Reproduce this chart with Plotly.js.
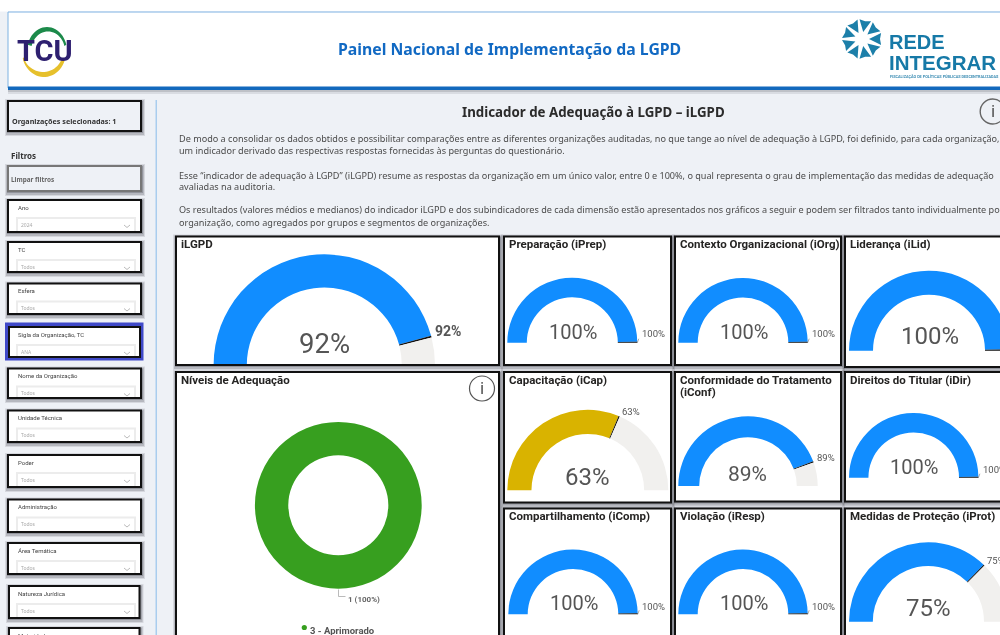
<!DOCTYPE html>
<html lang="pt">
<head>
<meta charset="utf-8">
<title>Painel Nacional de Implementação da LGPD</title>
<script src="https://cdn.plot.ly/plotly-3.0.1.min.js"></script>
<style>
html,body{margin:0;padding:0;width:1000px;height:635px;overflow:hidden;background:#eef1f6}
#plot{width:1100px;height:800px;filter:blur(0.3px)}
</style>
</head>
<body>
<div id="plot"></div>
<script>
// ---------- data ----------
const pageTitle = "Painel Nacional de Implementação da LGPD";
const sectionTitle = "Indicador de Adequação à LGPD – iLGPD";
const introLines = [
  "De modo a consolidar os dados obtidos e possibilitar comparações entre as diferentes organizações auditadas, no que tange ao nível de adequação à LGPD, foi definido, para cada organização,",
  "um indicador derivado das respectivas respostas fornecidas às perguntas do questionário.",
  "Esse “indicador de adequação à LGPD” (iLGPD) resume as respostas da organização em um único valor, entre 0 e 100%, o qual representa o grau de implementação das medidas de adequação",
  "avaliadas na auditoria.",
  "Os resultados (valores médios e medianos) do indicador iLGPD e dos subindicadores de cada dimensão estão apresentados nos gráficos a seguir e podem ser filtrados tanto individualmente por",
  "organização, como agregados por grupos e segmentos de organizações."
];
const gaugeNames = ["iLGPD","Preparação (iPrep)","Contexto Organizacional (iOrg)","Liderança (iLid)","Capacitação (iCap)","Conformidade do Tratamento|(iConf)","Direitos do Titular (iDir)","Compartilhamento (iComp)","Violação (iResp)","Medidas de Proteção (iProt)"];
const gaugeValues = [92,100,100,100,63,89,100,100,100,75];
const gaugeColors = ["#118dff","#118dff","#118dff","#118dff","#d9b300","#118dff","#118dff","#118dff","#118dff","#118dff"];
const levelCategories = ["3 - Aprimorado"];
const levelCounts = [1];
const levelColors = ["#379f1f"];
const filterTitles = ["Ano","TC","Esfera","Sigla da Organização, TC","Nome da Organização","Unidade Técnica","Poder","Administração","Área Temática","Natureza Jurídica","Maturidade"];
const filterValues = ["2024","Todos","Todos","ANA","Todos","Todos","Todos","Todos","Todos","Todos",""];
const selectedCount = 1;

// ---------- layout (pixels of the 1000x635 picture) ----------
const W = 1100, H = 800;
const px = x => x / W, py = y => 1 - y / H;
const gaugeBox = [ // panel x0,y0,x1,y1 ; gauge cx,cy,r ; big-number x,y,size ; label x,y,size
  {p:[176,236.5,499,365],  g:[324.3,365,110.7],  b:[324,343.5,27.5], l:[448,331,14]},
  {p:[504,236.5,671,365],  g:[572.3,342.7,65],   b:[573,332,20],   l:[653,333,9.5]},
  {p:[675,236.5,841,365],  g:[743,342.7,64.7],   b:[743.5,332,20], l:[823,333,9.5]},
  {p:[845,236.5,1060,367], g:[929,350.7,80],     b:[929.5,336,24], l:[1030,333,10]},
  {p:[504,372,671,502.5],  g:[587.8,490.3,80.5], b:[587.7,477,24], l:[631,411.5,9.5]},
  {p:[675,372,841,501.5],  g:[748,486,69.7],     b:[747.7,473.5,21],l:[826,457.7,9.5]},
  {p:[845,372,1060,501.5], g:[913.7,477.7,64.7], b:[914,467,20],   l:[994,469,9.5]},
  {p:[504,508.5,671,700],  g:[573,614.3,64.7],   b:[573.5,602.7,20],l:[653,606,9.5]},
  {p:[675,508.5,841,700],  g:[743,614.3,64.7],   b:[743.5,602.7,20],l:[823,606,9.5]},
  {p:[845,508.5,1060,700], g:[928.4,621.7,79.4], b:[928,607.5,24], l:[996,560.5,9.5]}
];
const filterBox = [[200,232],[242,272],[283.5,314],[327,357],[368.5,398],[410.5,442],[455,487],[499.5,532],[543,574],[586,618],[628,670]];
const DIN = "Roboto,sans-serif";
const UI  = "'Noto Sans',sans-serif";

const shapes = [], annotations = [], traces = [];
function rect(x0,y0,x1,y1,fill,line,w,layer){
  shapes.push({type:'rect',xref:'paper',yref:'paper',x0:px(x0),x1:px(x1),y0:py(y0),y1:py(y1),
    fillcolor:fill||'rgba(0,0,0,0)',line:{color:line||'rgba(0,0,0,0)',width:w||0},layer:layer||'below'});
}
function path(points,fill,line,w,close,layer){
  const d = points.map((p,i)=>(i?'L':'M')+px(p[0])+','+py(p[1])).join(' ')+(close?' Z':'');
  shapes.push({type:'path',xref:'paper',yref:'paper',path:d,fillcolor:fill||'rgba(0,0,0,0)',
    line:{color:line||'rgba(0,0,0,0)',width:w||0},layer:layer||'below'});
}
function circle(cx,cy,r,fill,line,w,layer){
  shapes.push({type:'circle',xref:'paper',yref:'paper',x0:px(cx-r),x1:px(cx+r),y0:py(cy-r),y1:py(cy+r),
    fillcolor:fill||'rgba(0,0,0,0)',line:{color:line||'rgba(0,0,0,0)',width:w||0},layer:layer||'below'});
}
function text(t,x,y,size,color,anchor,family,bold){
  annotations.push({text:bold?'<b>'+t+'</b>':t,x:px(x-((anchor||'left')==='left'?1.5:0)),y:py(y),xref:'paper',yref:'paper',showarrow:false,
    xanchor:anchor||'left',yanchor:'middle',align:anchor||'left',borderpad:0,
    font:{size:size,color:color||'#333',family:family||UI}});
}
function shadow(x0,y0,x1,y1){
  rect(x0-3,y0-2,x1+4,y1+5,'rgba(40,40,50,0.12)');
  rect(x0-2,y0-1,x1+3,y1+4,'rgba(40,40,50,0.18)');
  rect(x0-1,y0,x1+2,y1+2,'rgba(40,40,50,0.25)');
}
function panelBorder(x0,y0,x1,y1,color){ rect(x0,y0,x1,y1,null,color||'#111',2,'above'); }

// ---------- page frame ----------
rect(0,0,1100,11.5,'#ffffff');
rect(8,88,1100,94,'rgba(40,40,50,0.10)');
rect(8,88,1100,92,'rgba(40,40,50,0.15)');
rect(8,12,1100,88,'#ffffff','#7fb2e2',1);
rect(8,86.5,1100,90,'#1269bd');
rect(155.5,100,157,800,'#a9cdee');
text(pageTitle,509,48.5,15.8,'#1169c3','center',UI,true);

// TCU logo
function arc(cx,cy,rx,ry,a0,a1,rx2,ry2,dx){
  const pts=[]; for(let i=0;i<=24;i++){const a=(a0+(a1-a0)*i/24)*Math.PI/180;pts.push([cx+rx*Math.cos(a),cy+ry*Math.sin(a)]);}
  for(let i=24;i>=0;i--){const a=(a0+(a1-a0)*i/24)*Math.PI/180;pts.push([cx+dx+rx2*Math.cos(a),cy+ry2*Math.sin(a)]);}
  return pts;
}
path(arc(47,51,20,24,195,345,17,19.5,1),'#1c8a4a',null,0,true);
path(arc(44,52,22,25,20,165,20,20,-1),'#e6c02c',null,0,true);
text('TCU',44.5,51.5,29,'#2e2070','center',DIN,true);

// Rede Integrar logo
for(let k=0;k<9;k++){
  const a=(k*40-80)*Math.PI/180, sp=0.30, r0=7, r1=20;
  path([[862+r0*Math.cos(a),39+r0*Math.sin(a)],
        [862+r1*Math.cos(a-sp),39+r1*Math.sin(a-sp)],
        [862+(r1-2)*Math.cos(a),39+(r1-2)*Math.sin(a)],
        [862+r1*Math.cos(a+sp),39+r1*Math.sin(a+sp)]],'#1c7fa9',null,0,true);
}
text('REDE',889,42.5,20,'#1679a7','left','Liberation Sans',true);
text('INTEGRAR',889,62,20.5,'#1679a7','left','Liberation Sans',true);
text('FISCALIZAÇÃO DE POLÍTICAS PÚBLICAS DESCENTRALIZADAS',890,77,3.8,'#3d8db3','left',DIN,true);

// ---------- side bar ----------
shadow(8,101,141,131);
rect(8,101,141,131,'#eef1f6','#111',2);
text('Organizações selecionadas: '+selectedCount,12.5,121,7.2,'#333','left',UI,true);
text('Filtros',11,155.5,8,'#333','left',UI,true);
shadow(8,166,141,191);
rect(8,166,141,191,'#eef1f6','#777',2);
text('Limpar filtros',11,179.5,6.4,'#666','left',UI,true);
filterTitles.forEach((t,i)=>{
  const [y0,y1]=filterBox[i], sel=t.startsWith('Sigla');
  const x0=(i>=9)?9:(sel?9:8), x1=(i>=9)?139.5:(sel?140:141);
  if(sel) rect(5,322.5,143.5,360.5,'#3f49c8');
  else shadow(x0,y0,x1,y1);
  rect(x0,y0,x1,y1,'#ffffff');
  rect(17,y0+18,135,y1,'#ffffff','#ececec',2);
  rect(x0,y0,x1,y1,null,'#111',2);
  text(t,18,y0+7,6,'#444','left',DIN);
  if(filterValues[i]){
    text(filterValues[i],21,y0+24.5,5,'#aaa','left',UI);
    path([[124,y0+25],[127,y0+27.5],[130,y0+25]],null,'#aaa',0.8);
  }
});

// ---------- main area ----------
text(sectionTitle,593,112,13.3,'#2b2b2b','center',UI,true);
[138.5,151,175,186.5,209.5,222].forEach((y,i)=>text(introLines[i],179,y,9.1,'#4a4a4a','left','Noto Sans'));
circle(992.7,111.5,12.5,'rgba(0,0,0,0)','#666',1.4);
text('i',992.7,111,17,'#555','center',DIN);

// gauges: a half-circle pie; the lower half of the pie is left transparent
const tickWidth = 0.5;
gaugeValues.forEach((v,i)=>{
  const b=gaugeBox[i], [x0,y0,x1,y1]=b.p, [cx,cy,r]=b.g;
  shadow(x0,y0,x1,y1);
  rect(x0,y0,x1,y1,'#ffffff');
  panelBorder(x0,y0,x1,y1);
  traces.push({type:'pie',sort:false,direction:'clockwise',rotation:-90,hole:0.70,
    values:[v-tickWidth,tickWidth,100-v,100],
    marker:{colors:[gaugeColors[i],'#111111','#f1f0ee','rgba(0,0,0,0)'],line:{width:0}},
    textinfo:'none',hoverinfo:'skip',showlegend:false,automargin:false,
    domain:{x:[px(cx-r),px(cx+r)],y:[py(cy+r),py(cy-r)]}});
  gaugeNames[i].split('|').forEach((line,j)=>text(line,x0+5,y0+7.5+j*12.5,11.5,'#252423','left',DIN,true));
  text(v+'%',b.b[0],b.b[1],b.b[2],'#555','center',DIN);
  text(v+'%',b.l[0],b.l[1],b.l[2],'#555','center',DIN,i===0);
  if(v===100) path([[cx+r,cy],[cx+r+1.5,cy-4]],null,'#999',0.8);
});

// adequacy levels donut
shadow(176,372,499,700);
rect(176,372,499,700,'#ffffff');
panelBorder(176,372,499,700);
text('Níveis de Adequação',181,380,11.5,'#252423','left',DIN,true);
circle(482,388.5,12.5,'rgba(0,0,0,0)','#555',1.2,'above');
text('i',482,388,17,'#555','center',DIN);
const donutR=83.4, donutC=[338.3,505.3];
traces.push({type:'pie',sort:false,hole:0.6,labels:levelCategories,values:levelCounts,
  marker:{colors:levelColors,line:{width:0}},textinfo:'none',hoverinfo:'skip',showlegend:false,automargin:false,
  domain:{x:[px(donutC[0]-donutR),px(donutC[0]+donutR)],y:[py(donutC[1]+donutR),py(donutC[1]-donutR)]}});
path([[338.5,589.5],[338.5,596.5],[345.5,596.5]],null,'#aaa',0.8,false,'above');
const total=levelCounts.reduce((a,c)=>a+c,0);
text(levelCounts[0]+' ('+Math.round(100*levelCounts[0]/total)+'%)',348,599.5,8,'#666','left',DIN,true);
circle(304.3,627.5,2.6,levelColors[0]);
text(levelCategories[0],310,630,9.5,'#555','left',DIN,true);

Plotly.newPlot('plot',traces,{
  width:W,height:H,margin:{l:0,r:0,t:0,b:0,pad:0},autosize:false,
  paper_bgcolor:'#eef1f6',plot_bgcolor:'#eef1f6',showlegend:false,
  shapes:shapes,annotations:annotations
},{displayModeBar:false,staticPlot:true,responsive:false});
</script>
</body>
</html>
